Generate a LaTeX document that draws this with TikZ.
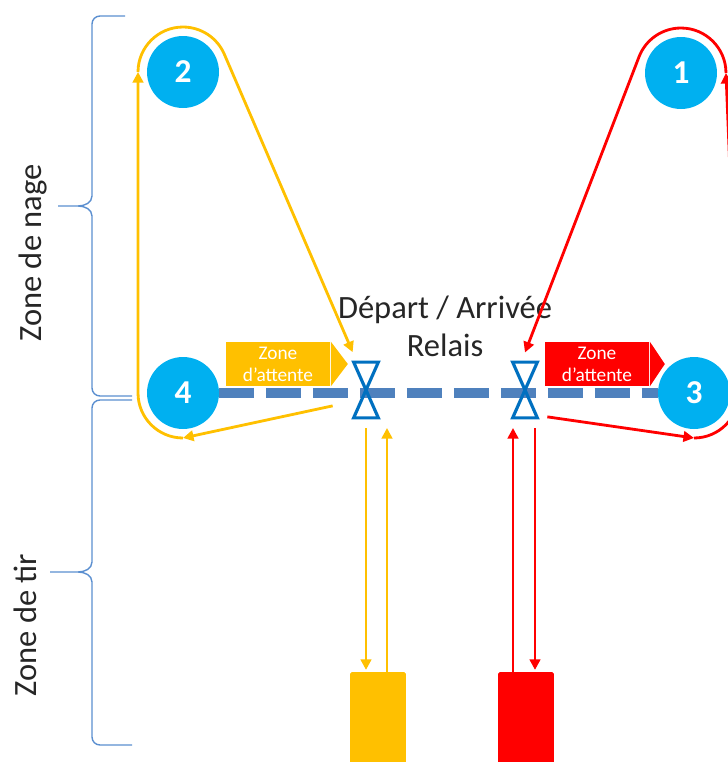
\documentclass[tikz,border=0pt]{standalone}
\usepackage{fontspec}
\setmainfont{Carlito}
\usetikzlibrary{positioning, calc, arrows.meta}
\definecolor{Jaune}{RGB}{255, 192, 0}
\definecolor{Rouge}{RGB}{255, 0, 0}
\definecolor{Bouee}{RGB}{0, 176, 240}
\definecolor{Ligne}{RGB}{79, 129, 189}
\definecolor{Sablier}{RGB}{0, 112, 192}
\definecolor{Accolade}{RGB}{91, 143, 208}
\definecolor{Texte}{RGB}{38, 38, 38}

\tikzset{
  bouee/.style={circle, fill=Bouee, text=white, minimum size=1.44cm, inner sep=0pt, font=\fontsize{19}{21}\selectfont\bfseries},
  fleche/.style={line width=1.6pt, -{Triangle[length=6pt, width=6pt]}},
  sablier/.style={minimum width=0.48cm, minimum height=1.1cm, inner sep=0pt},
  etiquette/.style={text=white, minimum width=2.1cm, minimum height=0.88cm, inner sep=0pt, align=center, font=\fontsize{11}{12.5}\selectfont},
  cible/.style={rounded corners=1pt, minimum width=1.12cm, minimum height=2cm, inner sep=0pt},
  zone/.style={rotate=90, text=Texte, font=\fontsize{18.5}{22}\selectfont}
}

\begin{document}
\begin{tikzpicture}[x=0.02cm, y=-0.02cm]
    \useasboundingbox (0,0) rectangle (728,762);
    \clip (0,0) rectangle (728,762);

    % Accolades a gauche
    \draw[Accolade, line width=0.8pt] (125,16) -- (100,16) to[out=180,in=90] (92,24) -- (92,196)
        to[out=-90,in=0] (78,206) -- (58,206) (78,206) to[out=0,in=90] (92,216) -- (92,388)
        to[out=-90,in=180] (100,396) -- (132,396);
    \draw[Accolade, line width=0.8pt] (132,400) -- (100,400) to[out=180,in=90] (92,408) -- (92,562)
        to[out=-90,in=0] (78,572) -- (50,572) (78,572) to[out=0,in=90] (92,582) -- (92,737)
        to[out=-90,in=180] (100,745) -- (132,745);
    \node[zone] (zNage) at (33,253) {Zone de nage};
    \node[zone] (zTir) at (25,625) {Zone de tir};

    % Bouees
    \node[bouee] (n1) at (681,73) {1};
    \node[bouee] (n2) at (183,72) {2};
    \node[bouee] (n3) at (694,393) {3};
    \node[bouee] (n4) at (183,393) {4};

    % Depart / arrivee
    \node[sablier] (hL) at (366,390) {};
    \node[sablier] (hR) at (525,390) {};
    \node[text=Texte, align=center, font=\fontsize{18.5}{21.6}\selectfont] (titre) at (445,326) {Départ / Arrivée\\Relais};

    % Zones d'attente
    \node[etiquette, fill=Jaune] (tJ) at (278,364) {Zone\\d’attente};
    \fill[Jaune] (tJ.north east) -- ([xshift=0.34cm]tJ.east) -- (tJ.south east) -- cycle;
    \node[etiquette, fill=Rouge] (tR) at (597,364) {Zone\\d’attente};
    \fill[Rouge] (tR.north east) -- ([xshift=0.3cm]tR.east) -- (tR.south east) -- cycle;

    % Pas de tir
    \node[cible, fill=Jaune] (pJ) at (378,722) {};
    \node[cible, fill=Rouge] (pR) at (526,722) {};
    \coordinate (niv) at (0,428);

    % Ligne de depart
    \draw[Ligne, line width=5.7pt, dash pattern=on 19.9pt off 6.8pt] (n4.east) -- (n3.west);
    \foreach \s in {hL, hR}
        \draw[Sablier, line width=1.8pt, line join=miter] (\s.north west) -- (\s.north east) -- (\s.south west) -- (\s.south east) -- cycle;

    % Parcours jaune
    \draw[fleche, Jaune] ($(n2)+(180:0.9cm)$) arc[start angle=180, end angle=23.4, radius=0.9cm] -- ([shift={(-1,-10)}]hL.north west);
    \draw[fleche, Jaune] ([shift={(-21,-12)}]hL.south west) -- ($(n4)+(0,-0.9cm)$);
    \draw[fleche, Jaune] ($(n4)+(0,-0.9cm)$) arc[start angle=270, end angle=180, radius=0.9cm] -- ($(n2)+(-0.9cm,0)$);
    \draw[fleche, Jaune] ([xshift=-0.24cm]pJ.north |- niv) -- ([xshift=-0.24cm, yshift=1pt]pJ.north);
    \draw[fleche, Jaune] ([xshift=0.18cm]pJ.north) -- ([xshift=0.18cm]pJ.north |- niv);

    % Parcours rouge
    \draw[fleche, Rouge] ($(n1)+(0.9cm,0)$) arc[start angle=0, end angle=159, radius=0.9cm] -- ([yshift=5.5pt]hR.north);
    \draw[fleche, Rouge] ([shift={(10,-1)}]hR.south east) -- ($(n3)+(0,-0.9cm)$);
    \draw[fleche, Rouge] ($(n3)+(0,-0.9cm)$) arc[start angle=270, end angle=360, radius=0.9cm] -- ($(n1)+(0.9cm,0)$);
    \draw[fleche, Rouge] ([xshift=-0.26cm]pR.north) -- ([xshift=-0.26cm]pR.north |- niv);
    \draw[fleche, Rouge] ([xshift=0.18cm]pR.north |- niv) -- ([xshift=0.18cm, yshift=1pt]pR.north);
\end{tikzpicture}
\end{document}
